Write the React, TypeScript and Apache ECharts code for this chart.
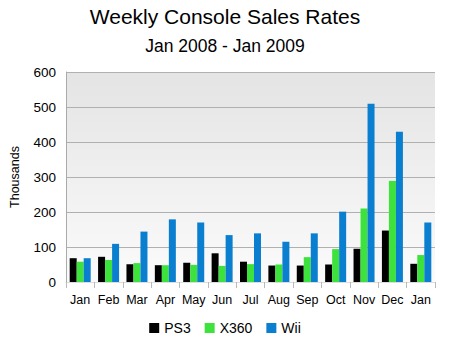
import React, { useEffect, useRef } from "react";
import * as echarts from "echarts";

const categories = ["Jan", "Feb", "Mar", "Apr", "May", "Jun", "Jul", "Aug", "Sep", "Oct", "Nov", "Dec", "Jan"];
const ps3 = [68, 72, 51, 48, 55, 82, 58, 47, 47, 50, 95, 147, 52];
const x360 = [58, 63, 54, 48, 49, 46, 51, 50, 71, 94, 210, 289, 77];
const wii = [68, 109, 144, 179, 170, 134, 139, 115, 139, 201, 509, 429, 170];
const yTicks = [0, 600, 100];

export default function App() {
  const ref = useRef<HTMLDivElement>(null);
  useEffect(() => {
    const chart = echarts.init(ref.current!, undefined, { renderer: "svg" });
    const font = "Liberation Sans, Arial, sans-serif";
    chart.setOption({
      animation: false,
      textStyle: { fontFamily: font },
      title: [
        { text: "Weekly Console Sales Rates", left: "center", top: 1, textStyle: { fontSize: 21, fontWeight: "normal", color: "#000", fontFamily: font } },
        { text: "Jan 2008 - Jan 2009", left: "center", top: 32, textStyle: { fontSize: 17.5, fontWeight: "normal", color: "#000", fontFamily: font } },
      ],
      legend: {
        bottom: 10,
        left: "center",
        itemWidth: 10,
        itemHeight: 10,
        itemGap: 14,
        icon: "rect",
        textStyle: { fontSize: 14, color: "#000", fontFamily: font },
        data: ["PS3", "X360", "Wii"],
      },
      grid: {
        left: 62, right: 15, top: 72, bottom: 68,
        show: true,
        borderWidth: 0,
        backgroundColor: new echarts.graphic.LinearGradient(0, 0, 0, 1, [
          { offset: 0, color: "#e4e4e4" },
          { offset: 1, color: "#fbfbfb" },
        ]),
      },
      xAxis: {
        type: "category",
        data: categories,
        axisLine: { show: true, lineStyle: { color: "#dddddd" } },
        axisTick: { show: true, length: 6, lineStyle: { color: "#bbbbbb" } },
        axisLabel: { color: "#000", fontSize: 12.5, margin: 11, interval: 0, hideOverlap: false, fontFamily: font },
      },
      yAxis: {
        type: "value",
        min: yTicks[0],
        max: yTicks[1],
        interval: yTicks[2],
        name: "Thousands",
        nameLocation: "middle",
        nameGap: 45,
        nameTextStyle: { color: "#000", fontSize: 12.5, fontFamily: font },
        axisLine: { show: true, lineStyle: { color: "#aaaaaa" } },
        axisTick: { show: false },
        axisLabel: { color: "#000", fontSize: 13.5, margin: 10, fontFamily: font },
        splitLine: { show: true, lineStyle: { color: "#b0b0b0" } },
      },
      series: [
        { name: "PS3", type: "bar", data: ps3, itemStyle: { color: "#000000" }, barGap: "0%", barCategoryGap: "26%" },
        { name: "X360", type: "bar", data: x360, itemStyle: { color: "#3de23d" } },
        { name: "Wii", type: "bar", data: wii, itemStyle: { color: "#0a7fd0" } },
      ],
    });
    return () => chart.dispose();
  }, []);
  return <div ref={ref} style={{ width: 450, height: 350, position: "absolute", left: 0, top: 0 }} />;
}
